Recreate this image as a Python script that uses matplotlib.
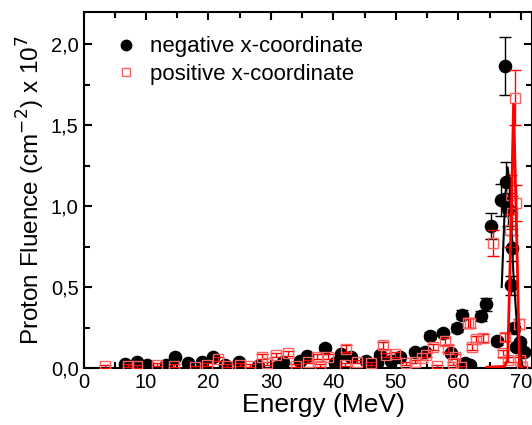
import matplotlib
matplotlib.use("Agg")
import matplotlib.pyplot as plt
from matplotlib.ticker import MultipleLocator, FuncFormatter
from matplotlib.lines import Line2D

plt.rcParams['font.family'] = ['Liberation Sans', 'DejaVu Sans']

# negative x-coordinate data (Energy MeV, fluence x1e7, error)
neg_E = [6.6, 8.6, 10.2, 13.2, 14.6, 16.7, 19.0, 20.7, 22.6, 24.9, 28.0, 31.0, 31.9,
         34.6, 35.7, 38.6, 40.2, 41.3, 42.9, 45.2, 47.4, 47.0, 49.3, 50.6, 53.0, 54.6,
         55.4, 57.5, 58.9, 59.8, 60.6, 61.0, 61.8, 63.7, 64.4, 65.2, 66.2, 66.9, 67.4,
         67.6, 68.0, 68.4, 68.6, 68.9, 69.3, 69.8, 70.5]
neg_F = [0.025, 0.04, 0.02, 0.02, 0.07, 0.03, 0.04, 0.07, 0.02, 0.04, 0.01, 0.005, 0.04,
         0.045, 0.075, 0.125, 0.03, 0.085, 0.065, 0.045, 0.08, 0.03, 0.045, 0.07, 0.10, 0.10,
         0.20, 0.215, 0.09, 0.25, 0.33, 0.03, 0.02, 0.32, 0.395, 0.88, 0.165, 1.04, 1.865,
         1.15, 0.98, 0.51, 0.74, 0.25, 0.13, 0.16, 0.10]
neg_err = [0.01, 0.01, 0.01, 0.01, 0.01, 0.01, 0.01, 0.01, 0.01, 0.01, 0.01, 0.01, 0.01,
           0.01, 0.01, 0.015, 0.01, 0.015, 0.01, 0.01, 0.015, 0.01, 0.01, 0.01, 0.015, 0.015,
           0.02, 0.02, 0.015, 0.025, 0.03, 0.01, 0.01, 0.03, 0.04, 0.08, 0.02, 0.10, 0.18,
           0.12, 0.10, 0.06, 0.08, 0.03, 0.02, 0.02, 0.02]

# positive x-coordinate data
pos_E = [3.5, 7.1, 8.6, 11.8, 14.5, 17.8, 19.8, 21.6, 22.9, 25.0, 26.6, 28.6, 29.4,
         30.8, 32.7, 34.0, 35.9, 37.4, 37.8, 39.1, 41.8, 42.1, 43.8, 46.1, 47.9, 48.5,
         49.8, 51.7, 53.0, 54.2, 54.9, 56.0, 56.6, 57.9, 58.4, 59.4, 59.2, 60.4, 61.5,
         61.9, 62.2, 62.8, 63.9, 65.5, 67.1, 67.4, 67.9, 68.2, 68.4, 68.6, 69.0, 69.3,
         69.7, 69.9, 70.2]
pos_F = [0.01, 0.015, 0.01, 0.02, 0.015, 0.005, 0.02, 0.055, 0.015, 0.02, 0.015, 0.07, 0.03,
         0.08, 0.09, 0.015, 0.04, 0.07, 0.015, 0.07, 0.02, 0.12, 0.04, 0.03, 0.14, 0.08,
         0.085, 0.03, 0.04, 0.06, 0.08, 0.13, 0.01, 0.165, 0.12, 0.07, 0.03, 0.005, 0.28,
         0.28, 0.13, 0.18, 0.185, 0.77, 0.09, 0.19, 0.05, 0.85, 1.07, 0.96, 1.67, 1.02,
         0.27, 0.05, 0.005]
pos_err = [0.01, 0.01, 0.01, 0.01, 0.01, 0.01, 0.01, 0.01, 0.01, 0.01, 0.01, 0.015, 0.01,
           0.015, 0.015, 0.01, 0.01, 0.015, 0.01, 0.015, 0.01, 0.02, 0.01, 0.01, 0.02, 0.015,
           0.015, 0.01, 0.01, 0.01, 0.015, 0.02, 0.01, 0.02, 0.02, 0.015, 0.01, 0.01, 0.03,
           0.03, 0.02, 0.02, 0.025, 0.08, 0.02, 0.025, 0.015, 0.10, 0.12, 0.10, 0.17, 0.11,
           0.03, 0.015, 0.01]

# fit curves
negfit_E = [66.95, 67.5, 67.9, 68.2, 68.8, 69.5, 70.3]
negfit_F = [0.50, 1.05, 1.24, 1.15, 0.60, 0.20, 0.0]
posfit_E = [64.6, 67.4, 67.9, 68.4, 68.85, 69.3, 69.8, 70.2]
posfit_F = [0.005, 0.01, 0.05, 0.80, 1.63, 0.90, 0.02, 0.0]

xticks = [0, 10, 20, 30, 40, 50, 60, 70]
yticks = [0.0, 0.5, 1.0, 1.5, 2.0]
labels = ['negative x-coordinate', 'positive x-coordinate']

fig = plt.figure(figsize=(5.32, 4.25), dpi=100)
ax = fig.add_axes([83.5/532, 1-368/425, 1-83.5/532, (368-12)/425])

ax.errorbar(neg_E, neg_F, yerr=neg_err, fmt='o', color='black', ms=8.8,
            elinewidth=1, capsize=4, capthick=1, zorder=3)
ax.errorbar(pos_E, pos_F, yerr=pos_err, fmt='s', mfc='none', mec='#ff6060', mew=1,
            ecolor='red', ms=6.5, elinewidth=1, capsize=4, capthick=1, zorder=4)
ax.plot(negfit_E, negfit_F, color='black', lw=1.5, zorder=5)
ax.plot(posfit_E, posfit_F, color='red', lw=2, zorder=6)

ax.set_xlim(0, 71.8)
ax.set_ylim(0, 2.2)
ax.set_xticks(xticks)
ax.set_yticks(yticks)
ax.xaxis.set_minor_locator(MultipleLocator(5))
ax.yaxis.set_minor_locator(MultipleLocator(0.25))
ax.yaxis.set_major_formatter(FuncFormatter(lambda v, p: f"{v:.1f}".replace('.', ',')))
ax.tick_params(which='both', direction='in', top=True, right=True, width=1.5,
               labelsize=14.5)
ax.tick_params(which='major', length=6)
ax.tick_params(which='minor', length=4)
for s in ax.spines.values():
    s.set_linewidth(1.5)

ax.set_xlabel('Energy (MeV)', fontsize=19, labelpad=1)
ax.xaxis.set_label_coords(0.536, -0.07, transform=ax.transAxes)
ax.xaxis.label.set_verticalalignment('top')
ax.set_ylabel('Proton Fluence (cm$^{-2}$) x 10$^{7}$', fontsize=17.5, labelpad=3)

handles = [Line2D([], [], ls='none', marker='o', color='black', ms=7.5),
           Line2D([], [], ls='none', marker='s', mfc='white', mec='#ff6060', mew=1, ms=6)]
ax.legend(handles, labels, loc='upper left', bbox_to_anchor=(0.035, 0.975), frameon=False,
          fontsize=16, handlelength=1.0, handletextpad=0.6, labelspacing=0.28,
          borderaxespad=0.3)

fig.savefig('out.png', dpi=100)
